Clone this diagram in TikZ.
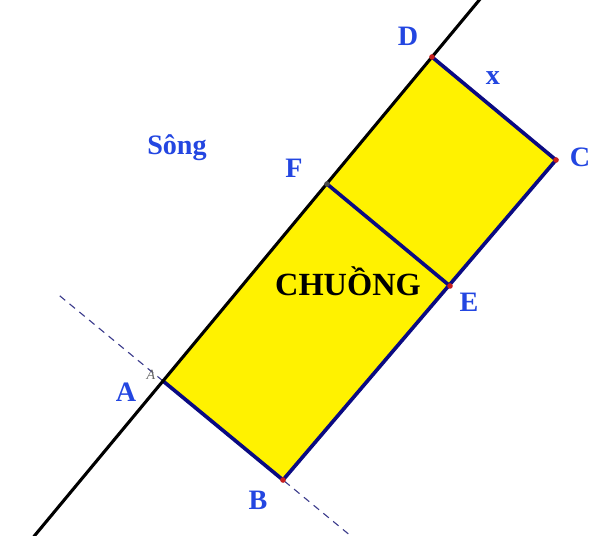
\documentclass[tikz,border=0pt]{standalone}
\usepackage{fontspec}
\setmainfont{Liberation Serif}
\usepackage{xcolor}
\definecolor{ptblue}{RGB}{35,70,225}
\definecolor{ptnavy}{RGB}{10,10,130}
\definecolor{ptred}{RGB}{200,30,30}
\definecolor{ptdash}{RGB}{60,60,140}
\usetikzlibrary{calc}

\begin{document}
\begin{tikzpicture}[x=0.025cm,y=-0.025cm,
  lbl/.style={text=ptblue,font=\fontsize{20}{24}\selectfont\bfseries},
  side/.style={draw=ptnavy,line width=2.6pt,line cap=round},
  dot/.style={circle,fill=ptred,inner sep=0pt,minimum size=4pt}]
  \useasboundingbox (0,0) rectangle (595,536);
  % points of the pen
  \coordinate (A) at (163,381);
  \coordinate (B) at (283,480);
  \coordinate (C) at (556,160);
  \coordinate (D) at (432,57);
  \coordinate (E) at (450,286);
  \coordinate (F) at (327,184);
  \coordinate (r1) at ($(A)!-0.48!(D)$);
  \coordinate (r2) at ($(A)!1.18!(D)$);
  \coordinate (p1) at ($(A)!-0.86!(B)$);
  \coordinate (p2) at ($(A)!1.56!(B)$);
  \fill[yellow] (A)--(B)--(C)--(D)--cycle;
  \draw[ptdash,line width=0.8pt,dash pattern=on 5pt off 4pt] (p1)--(p2);
  \draw[side] (A)--(B)--(C)--(D);
  \draw[side] (F)--(E);
  \draw[black,line width=2.2pt] (r1)--(r2);
  % dots
  \node[dot] at (D) {};
  \node[dot] at (C) {};
  \node[dot] at (E) {};
  \node[dot] at (B) {};
  \node[dot,fill=black!70] at (F) {};
  % labels
  \node[lbl] (lD) at (408,36) {D};
  \node[lbl] (lx) at (493,78) {x};
  \node[lbl] (lC) at (580,157) {C};
  \node[lbl] (lS) at (177,148) {Sông};
  \node[lbl] (lF) at (294,168) {F};
  \node[lbl] (lE) at (469,302) {E};
  \node[lbl] (lA) at (126,392) {A};
  \node[lbl] (lB) at (258,500) {B};
  \node[font=\fontsize{23}{26}\selectfont\bfseries] (lchuong) at (348,281) {CHUỒNG};
  \node[text=black!60,font=\fontsize{10}{11}\selectfont\itshape] (lmark) at (151,375) {A};
\end{tikzpicture}
\end{document}
